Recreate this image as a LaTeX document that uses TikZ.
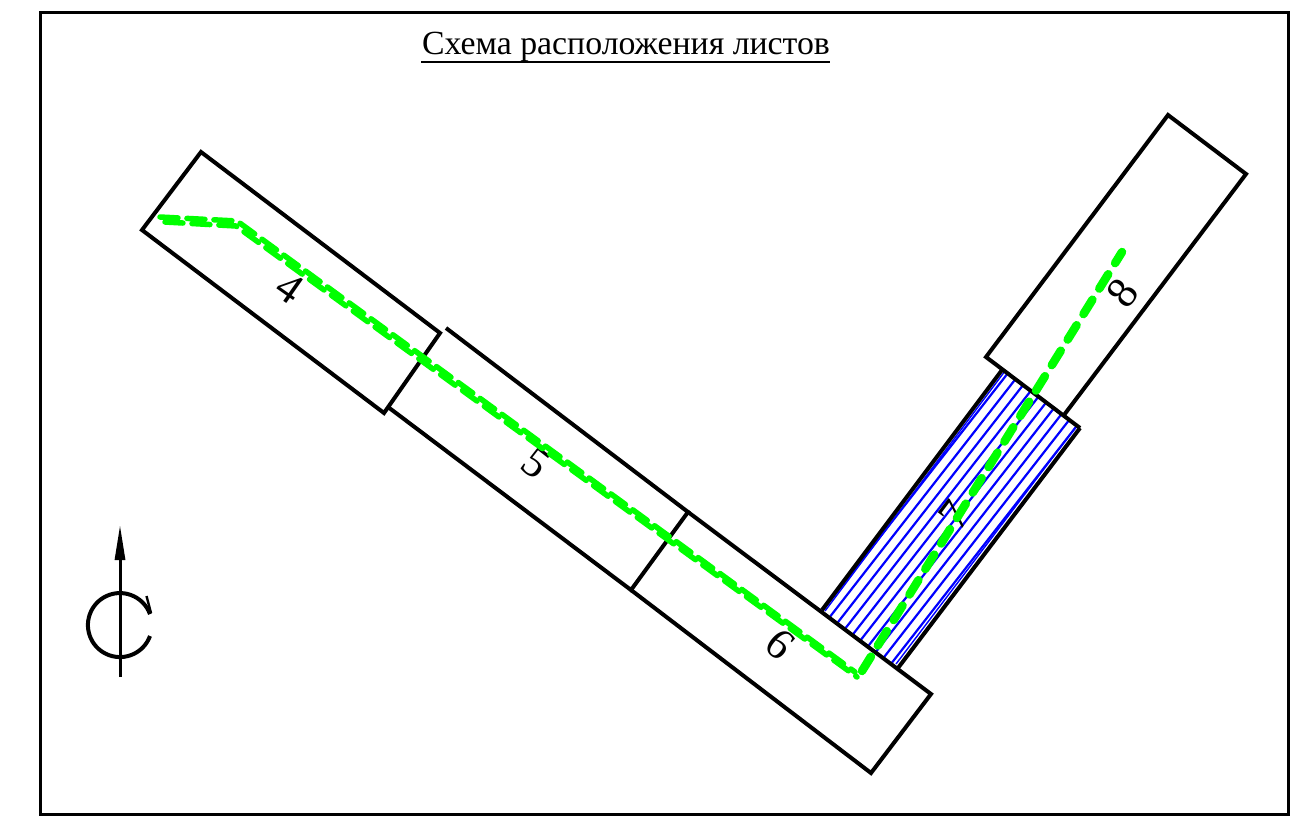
\documentclass[tikz,border=0pt]{standalone}
\usepackage{fontspec}
\setmainfont{Liberation Serif}
\usetikzlibrary{arrows.meta}
\definecolor{hatchblue}{RGB}{0,0,255}
\definecolor{routegreen}{RGB}{0,255,0}
\tikzset{
  x=1pt,y=-1pt,
  sheet/.style={draw=black,line width=4pt,line join=miter},
  hatchline/.style={draw=hatchblue,line width=2.2pt},
  hatchedge/.style={draw=hatchblue,line width=1.4pt},
  routethin/.style={draw=routegreen,line width=5.5pt,line cap=round,dash pattern=on 18pt off 9pt},
  routewide/.style={draw=routegreen,line width=8.5pt,line cap=round,dash pattern=on 17pt off 13pt},
  digit/.style={inner sep=0pt,font=\fontsize{44}{44}\selectfont},
}
\begin{document}
\begin{tikzpicture}
\useasboundingbox (0,0) rectangle (1305,820);
\draw[black,line width=3pt] (40,12) rectangle (1288,814);
\node[inner sep=0pt,anchor=base] (title) at (626,54) {\fontsize{33.8}{36}\selectfont Схема расположения листов};
\draw[black,line width=2pt] (421,61.5) -- (830,61.5);
% hatching of sheet 7
\begin{scope}
\clip (822,610) -- (1002,370) -- (1080,428) -- (898,668) -- cycle;
\foreach \i in {-1,...,8} {
  \draw[hatchline] ({830+7.7*\i},{616.7+5.8*\i}) -- ({1015+7.7*\i},{379.7+5.8*\i});
}
\draw[hatchedge] (825,611) -- (1005,371);
\draw[hatchedge] (896,664) -- (1078,424);
\end{scope}
% sheets
\draw[sheet] (201,152) -- (440,333) -- (384,413) -- (142,230) -- cycle;
\draw[sheet] (446,328) -- (688,512) -- (631,590) -- (388,407);
\draw[sheet] (688,512) -- (931,694) -- (871,773) -- (631,590);
\draw[sheet] (822,610) -- (1002,370);
\draw[sheet] (1080,428) -- (898,668);
\draw[sheet] (1064,415) -- (1246,174) -- (1168,115) -- (986,357) -- (1080,428);
\node[digit,rotate=-35] (n4) at (290,288) {4};
\node[digit,rotate=-38] (n5) at (536,463) {5};
\node[digit,rotate=-42] (n6) at (780,644) {6};
\node[digit,rotate=53] (n7) at (955,515) {7};
\node[digit,rotate=53] (n8) at (1123,293) {8};
% routes
\draw[routethin] (160,217) -- (237,221) -- (855,672);
\draw[routethin] (165,222) -- (236,226) -- (857,677);
\draw[routewide] (862,671) -- (1122,252);
% rotation symbol
\draw[black,line width=3pt,-{Triangle[length=35pt,width=10pt]}] (120,677) -- (120,525);
\draw[black,line width=4pt] (150,636) arc[start angle=20,end angle=340,radius=32];
\draw[black,line width=2.4pt] (151,613) -- (146.5,596);
\end{tikzpicture}
\end{document}
